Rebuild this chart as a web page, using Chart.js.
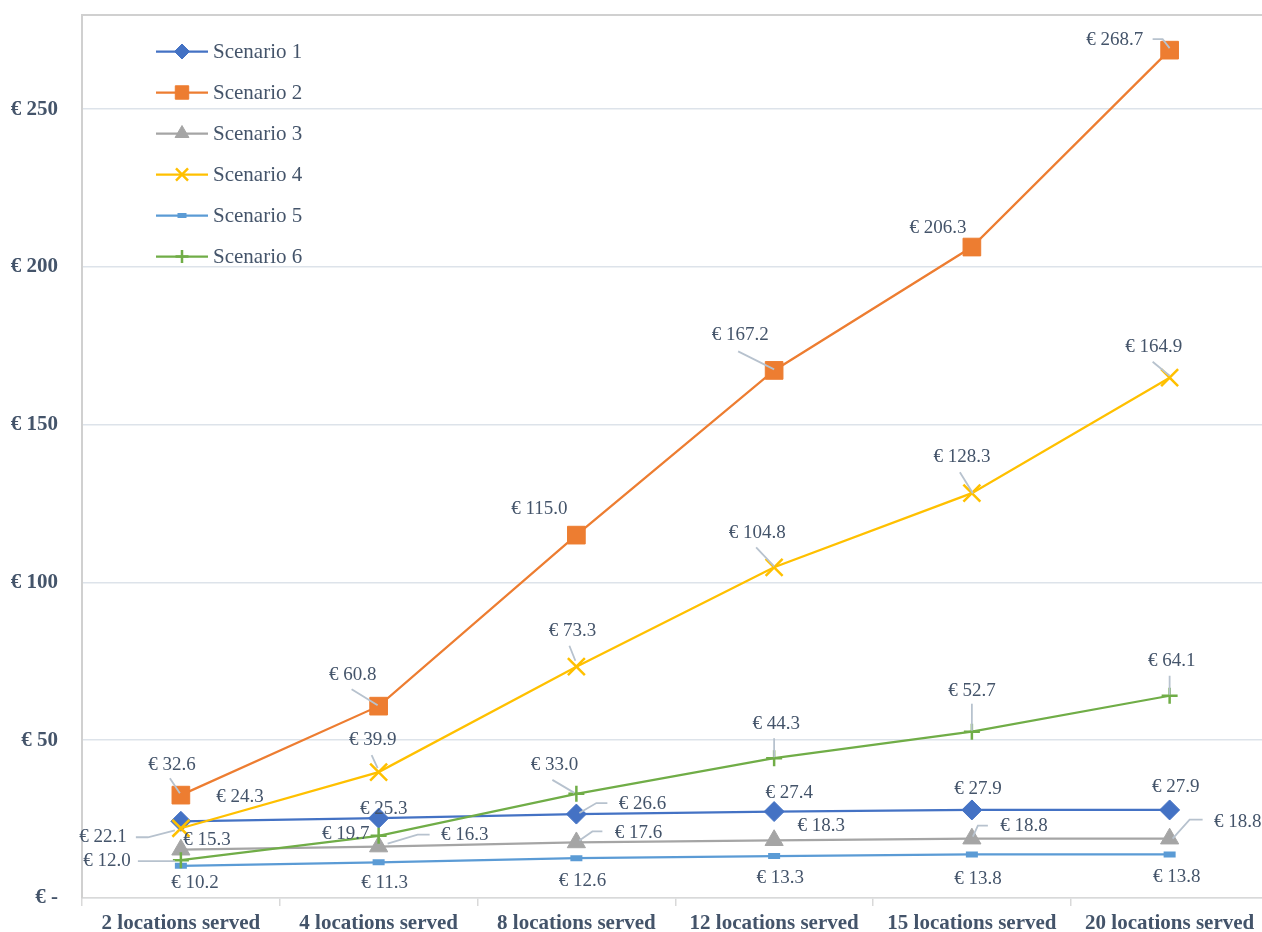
<!DOCTYPE html>
<html>
<head>
<meta charset="utf-8">
<script src="https://cdn.jsdelivr.net/npm/chart.js@4/dist/chart.umd.min.js"></script>
<style>
  html, body { margin: 0; padding: 0; background: #ffffff; overflow: hidden; }
  #wrap { position: absolute; left: 0; top: 0; width: 1283px; height: 932px; }
</style>
</head>
<body>
<div id="wrap"><canvas id="c" width="1283" height="932"></canvas></div>
<script>
// Categories and cost per scenario (€)
const categories = ['2 locations served', '4 locations served', '8 locations served',
                    '12 locations served', '15 locations served', '20 locations served'];
const scenario1 = [24.3, 25.3, 26.6, 27.4, 27.9, 27.9];
const scenario2 = [32.6, 60.8, 115.0, 167.2, 206.3, 268.7];
const scenario3 = [15.3, 16.3, 17.6, 18.3, 18.8, 18.8];
const scenario4 = [22.1, 39.9, 73.3, 104.8, 128.3, 164.9];
const scenario5 = [10.2, 11.3, 12.6, 13.3, 13.8, 13.8];
const scenario6 = [12.0, 19.7, 33.0, 44.3, 52.7, 64.1];
const seriesNames = ['Scenario 1', 'Scenario 2', 'Scenario 3', 'Scenario 4', 'Scenario 5', 'Scenario 6'];
const yTicks = [0, 50, 100, 150, 200, 250];

// Value label placement: [dx, dy] of the label centre from its point, in px
const labelPos1 = [[59,-24],[5,-9],[66,-10],[15,-19],[6,-21],[6,-23]];
const labelPos2 = [[-9,-30],[-26,-31],[-37,-26],[-34,-35],[-34,-19],[-55,-10]];
const labelPos3 = [[26,-10],[86,-12],[62,-9],[47,-14],[52,-13],[68,-17]];
const labelPos4 = [[-78,9],[-6,-32],[-4,-36],[-17,-34],[-10,-36],[-16,-31]];
const labelPos5 = [[14,17],[6,21],[6,23],[6,22],[6,25],[7,23]];
const labelPos6 = [[-74,1],[-33,-2],[-22,-29],[2,-34],[0,-41],[2,-35]];

// Leader lines (polyline offsets from the point), null where none is drawn
const leaders1 = [null, null, [[31,-11],[20,-11],[3,-1]], null, null, null];
const leaders2 = [[[-11,-17],[-1,-2]], [[-27,-17],[-1,-1]], null, [[-36,-19],[0,-1]], null,
                  [[-17,-11],[-7,-11],[0,-2]]];
const leaders3 = [null, [[51,-12],[39,-12],[9,-3]], [[26,-11],[16,-11],[3,-2]], null,
                  [[16,-13],[6,-13],[1,-2]], [[33,-19],[20,-19],[3,0]]];
const leaders4 = [[[-45,9],[-33,9],[-6,2]], [[-7,-17],[-1,-4]], [[-7,-21],[-1,-6]],
                  [[-18,-20],[0,-1]], [[-12,-21],[1,0]], [[-17,-16],[0,-2]]];
const leaders5 = [null, null, null, null, null, null];
const leaders6 = [[[-43,1],[-6,1]], null, [[-24,-14],[-2,-1]], [[0,-20],[0,-1]],
                  [[0,-28],[0,-1]], [[0,-20],[0,-1]]];

const TEXT = '#44546a';
const LEADER = '#b7c2ce';
const SERIF = '"Liberation Serif", "Times New Roman", serif';

const styles = [
  { color: '#4472c4', pointStyle: 'rectRot', radius: 10, bw: 1, legendR: 7.5 },
  { color: '#ed7d31', pointStyle: 'rect', radius: 12.5, bw: 1, legendR: 9.5 },
  { color: '#a5a5a5', pointStyle: 'triangle', radius: 10.5, bw: 1, legendR: 8 },
  { color: '#ffc000', pointStyle: 'crossRot', radius: 12, bw: 2.5, legendR: 8.5 },
  { color: '#5b9bd5', pointStyle: 'line', radius: 6, bw: 6, legendR: 4.5 },
  { color: '#70ad47', pointStyle: 'cross', radius: 8, bw: 2.5, legendR: 6.5 }
];
const seriesData = [scenario1, scenario2, scenario3, scenario4, scenario5, scenario6];
const labelPos = [labelPos1, labelPos2, labelPos3, labelPos4, labelPos5, labelPos6];
const leaders = [leaders1, leaders2, leaders3, leaders4, leaders5, leaders6];

const datasets = seriesData.map((d, i) => ({
  label: seriesNames[i],
  data: d,
  borderColor: styles[i].color,
  backgroundColor: styles[i].color,
  borderWidth: 2.25,
  pointStyle: styles[i].pointStyle,
  pointRadius: styles[i].radius,
  pointHoverRadius: styles[i].radius,
  pointBorderWidth: styles[i].bw,
  pointBackgroundColor: styles[i].color,
  pointBorderColor: styles[i].color,
  tension: 0,
  order: 5 - i
}));

// Value labels with leader lines
const valueLabels = {
  id: 'valueLabels',
  afterDatasetsDraw(chart) {
    const ctx = chart.ctx;
    ctx.save();
    ctx.lineWidth = 1.8;
    ctx.strokeStyle = LEADER;
    chart.data.datasets.forEach((ds, i) => {
      const meta = chart.getDatasetMeta(i);
      meta.data.forEach((pt, j) => {
        const ld = leaders[i][j];
        if (!ld) return;
        ctx.beginPath();
        ld.forEach((p, k) => {
          const x = pt.x + p[0], y = pt.y + p[1];
          if (k === 0) ctx.moveTo(x, y); else ctx.lineTo(x, y);
        });
        ctx.stroke();
      });
    });
    ctx.font = '19px ' + SERIF;
    ctx.fillStyle = TEXT;
    ctx.textAlign = 'center';
    ctx.textBaseline = 'middle';
    chart.data.datasets.forEach((ds, i) => {
      const meta = chart.getDatasetMeta(i);
      meta.data.forEach((pt, j) => {
        const off = labelPos[i][j];
        ctx.fillText('€ ' + ds.data[j].toFixed(1), pt.x + off[0], pt.y + off[1]);
      });
    });
    ctx.restore();
  }
};

// Legend drawn inside the plot area, top-left
const insideLegend = {
  id: 'insideLegend',
  afterDraw(chart) {
    const ctx = chart.ctx;
    const x0 = chart.chartArea.left + 74, x1 = x0 + 52, y0 = chart.chartArea.top + 37, gap = 41;
    ctx.save();
    chart.data.datasets.forEach((ds, i) => {
      const y = y0 + i * gap, st = styles[i];
      ctx.strokeStyle = st.color;
      ctx.lineWidth = 2.25;
      ctx.beginPath(); ctx.moveTo(x0, y); ctx.lineTo(x1, y); ctx.stroke();
      ctx.fillStyle = st.color;
      ctx.lineWidth = st.pointStyle === 'line' ? 5 : st.bw;
      Chart.helpers.drawPoint(ctx, { pointStyle: st.pointStyle, radius: st.legendR, rotation: 0,
        borderWidth: ctx.lineWidth }, (x0 + x1) / 2, y);
      ctx.fillStyle = TEXT;
      ctx.font = '21px ' + SERIF;
      ctx.textAlign = 'left';
      ctx.textBaseline = 'middle';
      ctx.fillText(ds.label, x1 + 5, y + 1);
    });
    ctx.restore();
  }
};

new Chart(document.getElementById('c'), {
  type: 'line',
  data: { labels: categories, datasets },
  plugins: [valueLabels, insideLegend],
  options: {
    responsive: false,
    maintainAspectRatio: false,
    devicePixelRatio: 1,
    animation: false,
    layout: { padding: { top: 13, right: 6, left: 0, bottom: 0 } },
    plugins: { legend: { display: false }, tooltip: { enabled: false } },
    scales: {
      x: {
        type: 'category',
        offset: true,
        grid: { offset: true, drawOnChartArea: false, drawTicks: true, tickLength: 8,
                color: '#d9d9d9', lineWidth: 1.5 },
        border: { display: true, color: '#d9d9d9', width: 1.5 },
        ticks: { color: TEXT, font: { family: SERIF, size: 21, weight: 'bold' }, padding: 5,
                 maxRotation: 0, autoSkip: false },
        afterFit(scale) { scale.height = 34; scale.paddingLeft = 0; scale.paddingRight = 0; }
      },
      y: {
        min: 0,
        max: 280,
        afterBuildTicks(scale) {
          scale.ticks = yTicks.concat([280]).map(v => ({ value: v }));
        },
        grid: {
          drawTicks: false,
          color: ctx => (ctx.tick && ctx.tick.value === 280) ? '#d0d0d0' : '#dde3ea',
          lineWidth: ctx => (ctx.tick && ctx.tick.value === 280) ? 2 : 1.5
        },
        border: { display: true, color: '#d0d0d0', width: 2 },
        ticks: {
          color: TEXT,
          font: { family: SERIF, size: 21, weight: 'bold' },
          padding: 24,
          callback: v => v === 280 ? '' : (v === 0 ? '€ -' : '€ ' + v)
        },
        afterFit(scale) { scale.width = 82; scale.paddingTop = 0; scale.paddingBottom = 0; }
      }
    }
  }
});
</script>
</body>
</html>
